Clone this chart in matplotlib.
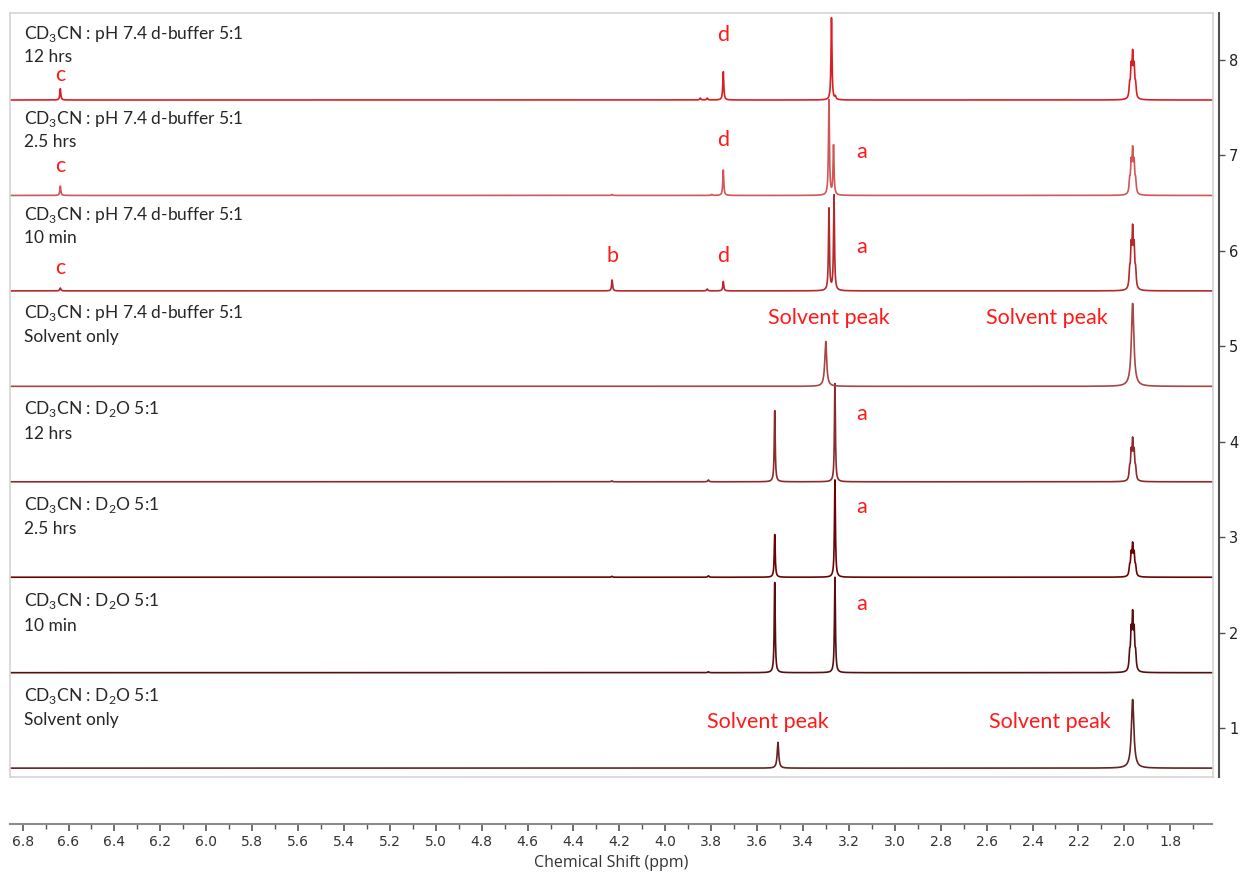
import matplotlib
matplotlib.use("Agg")
import matplotlib.pyplot as plt
import matplotlib.transforms as mtransforms
import numpy as np

plt.rcParams["font.family"] = ["Lato", "DejaVu Sans"]
plt.rcParams["mathtext.fontset"] = "custom"
plt.rcParams["mathtext.rm"] = "Lato"

# peak tables per trace: (shift ppm, height, half width ppm); trace 1 = bottom
trace1_peaks = [(3.512, 0.27, 0.004), (1.968, 0.72, 0.0065)]
trace2_peaks = [(3.526, 0.95, 0.0025), (3.264, 1.00, 0.0025), (3.815, 0.01, 0.003), (1.968, 0.66, 0.003)]
trace3_peaks = [(3.526, 0.45, 0.0025), (3.264, 1.02, 0.0025), (3.815, 0.015, 0.003),
                (4.235, 0.01, 0.003), (1.968, 0.37, 0.003)]
trace4_peaks = [(3.526, 0.75, 0.0025), (3.264, 1.03, 0.0025), (3.815, 0.02, 0.003),
                (4.235, 0.01, 0.003), (1.968, 0.47, 0.003)]
trace5_peaks = [(3.304, 0.47, 0.005), (1.968, 0.87, 0.0065)]
trace6_peaks = [(6.636, 0.03, 0.003), (4.234, 0.115, 0.0025), (3.75, 0.10, 0.0025),
                (3.82, 0.02, 0.003), (3.29, 0.86, 0.0025), (3.268, 1.00, 0.0025),
                (1.968, 0.70, 0.003)]
trace7_peaks = [(6.636, 0.10, 0.0025), (4.234, 0.01, 0.003), (3.75, 0.27, 0.0025),
                (3.80, 0.01, 0.003), (3.29, 1.00, 0.0025), (3.27, 0.52, 0.0025),
                (1.968, 0.52, 0.003)]
trace8_peaks = [(6.636, 0.12, 0.0025), (3.75, 0.30, 0.0025), (3.85, 0.02, 0.003),
                (3.82, 0.02, 0.003), (3.279, 0.86, 0.0025), (3.262, 0.03, 0.003),
                (1.968, 0.53, 0.003)]
# which traces have a resolved quintet at 1.97 ppm
quintet = [False, True, True, True, False, True, True, True]

all_peaks = [trace1_peaks, trace2_peaks, trace3_peaks, trace4_peaks,
             trace5_peaks, trace6_peaks, trace7_peaks, trace8_peaks]
trace_colors = ["#642424", "#561010", "#6a0404", "#8a2c2c",
                "#a84646", "#b42a2a", "#d25656", "#dc1e24"]
line1 = ["CD$_{\\mathregular{3}}$CN : D$_{\\mathregular{2}}$O 5:1"] * 4 + \
        ["CD$_{\\mathregular{3}}$CN : pH 7.4 d-buffer 5:1"] * 4
line2 = ["Solvent only", "10 min", "2.5 hrs", "12 hrs",
         "Solvent only", "10 min", "2.5 hrs", "12 hrs"]
# label heights relative to each tick value
line1_dy = [0.335, 0.335, 0.335, 0.345, 0.345, 0.377, 0.377, 0.272]
line2_dy = [0.084, 0.073, 0.084, 0.084, 0.094, 0.136, 0.136, 0.031]

# red annotations: (text, shift, trace, height above baseline)
notes = [("c", 6.636, 8, 0.26), ("c", 6.636, 7, 0.31), ("c", 6.636, 6, 0.24),
         ("d", 3.75, 8, 0.68), ("d", 3.75, 7, 0.58), ("d", 3.75, 6, 0.37),
         ("b", 4.234, 6, 0.37),
         ("a", 3.147, 7, 0.46), ("a", 3.147, 6, 0.46), ("a", 3.147, 4, 0.71),
         ("a", 3.147, 3, 0.74), ("a", 3.147, 2, 0.72),
         ("Solvent peak", 3.29, 5, 0.72), ("Solvent peak", 2.34, 5, 0.72),
         ("Solvent peak", 3.557, 1, 0.48), ("Solvent peak", 2.33, 1, 0.48)]

x_lo, x_hi = 1.618, 6.855
ppm = np.linspace(x_hi, x_lo, 8000)


def lorentz(x, c, h, w):
    return h * w ** 2 / ((x - c) ** 2 + w ** 2)


def spectrum(peaks, split):
    y = np.zeros_like(ppm)
    for c, h, w in peaks:
        if split and abs(c - 1.968) < 1e-6:
            q = sum(r * lorentz(ppm, c + (i - 2) * 0.0065, 1.0, w)
                    for i, r in enumerate([0.3, 0.7, 1.0, 0.7, 0.3]))
            y += h * q / q.max()
        else:
            y += lorentz(ppm, c, h, w)
    return y


fig = plt.figure(figsize=(12.41, 8.76), dpi=100)
ax = fig.add_axes([0.00806, 0.113, 0.9694, 0.872])
ax.set_xlim(x_hi, x_lo)
ax.set_ylim(0.487, 8.49)
for s in ax.spines.values():
    s.set_color("#d4d4d4")
    s.set_linewidth(1.2)
ax.set_xticks([])
ax.set_yticks([])

for k in range(8):
    base = (k + 1) - 0.42
    ax.plot(ppm, base + spectrum(all_peaks[k], quintet[k]),
            color=trace_colors[k], lw=1.2)

trans = mtransforms.blended_transform_factory(ax.transAxes, ax.transData)
for k in range(8):
    ax.text(0.0116, k + 1 + line1_dy[k], line1[k], transform=trans, ha="left",
            va="center", fontsize=12.5, color="#262626")
    ax.text(0.0116, k + 1 + line2_dy[k], line2[k], transform=trans, ha="left",
            va="center", fontsize=12.5, color="#262626")

for txt, x, k, dy in notes:
    ax.text(x, k - 0.42 + dy, txt, ha="center", va="center",
            fontsize=15.5, color="#ff1a1a")

# right-hand offset scale
sec = ax.secondary_yaxis(1.0047)
sec.spines["right"].set_color("#505050")
sec.spines["right"].set_linewidth(1.5)
sec.set_yticks(range(1, 9))
sec.tick_params(axis="y", length=4, width=1, colors="#505050",
                labelsize=10.5, labelcolor="#222222")
for lab in sec.get_yticklabels():
    lab.set_fontfamily("DejaVu Sans")

# separate chemical shift axis
axb = fig.add_axes([0.00806, 0.0594, 0.9686, 0.0001])
axb.set_xlim(x_hi, x_lo)
for side in ["left", "right", "top"]:
    axb.spines[side].set_visible(False)
axb.spines["bottom"].set_color("#8c8c8c")
axb.spines["bottom"].set_linewidth(1.5)
axb.set_yticks([])
axb.set_xticks(np.arange(1.8, 6.81, 0.2))
axb.set_xticklabels([f"{v:.1f}" for v in np.arange(1.8, 6.81, 0.2)],
                    fontfamily="DejaVu Sans")
axb.set_xticks(np.arange(1.7, 6.86, 0.1), minor=True)
axb.tick_params(axis="x", which="major", length=5, width=1.2, color="#555555",
                labelsize=10, labelcolor="#333333", pad=3)
axb.tick_params(axis="x", which="minor", length=3.5, width=1.0, color="#555555")
axb.set_xlabel("Chemical Shift (ppm)", fontsize=11.5, color="#333333",
               fontfamily="Open Sans", labelpad=4)

fig.savefig("out.png", dpi=100)
